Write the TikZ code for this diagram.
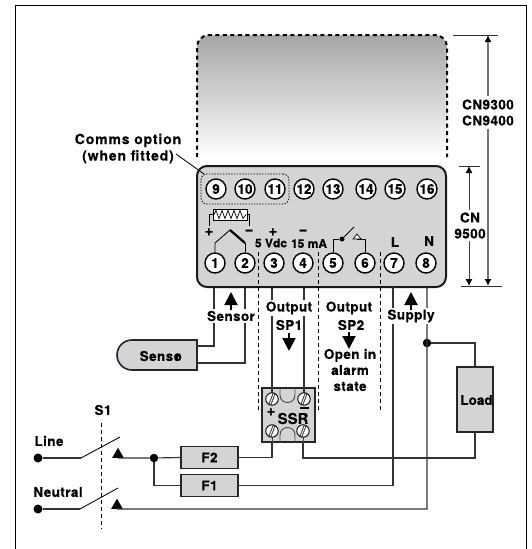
\documentclass[tikz,border=0pt]{standalone}
\usepackage{fontspec}
\setmainfont{TeX Gyre Heros}[BoldFeatures={FakeBold=0.25}]
\newfontfamily\lab[LetterSpace=3.0,BoldFeatures={FakeBold=0.25}]{TeX Gyre Heros}
\newfontfamily\labwide[LetterSpace=6.0,BoldFeatures={FakeBold=0.25}]{TeX Gyre Heros}
\usetikzlibrary{arrows.meta,shapes.misc,shapes.geometric,calc}
\definecolor{boxgray}{HTML}{D3D4D6}
\definecolor{wiregray}{HTML}{333333}
\tikzset{
  txt/.style={font=\fontsize{13.5}{16}\selectfont\lab\bfseries,inner sep=0pt,align=center,text=black},
  small/.style={font=\fontsize{12}{14}\selectfont\bfseries},
  sign/.style={txt,font=\fontsize{15}{16}\selectfont\bfseries},
  mask/.style={txt,fill=white,inner xsep=1pt,inner ysep=1.5pt},
  term/.style={circle,draw=black,fill=white,line width=1.4pt,minimum size=20pt,inner sep=0pt,font=\fontsize{13.5}{15}\selectfont\bfseries},
  wire/.style={draw=wiregray,line width=1.15pt},
  thin wire/.style={draw=black,line width=.85pt},
  ddash/.style={draw=black,line width=1pt,dash pattern=on 3.5pt off 3.5pt},
  grayfill/.style={draw=black!85,fill=boxgray,line width=1.6pt,inner sep=0pt},
  dot/.style={circle,fill=black,inner sep=0pt,minimum size=#1},
  contact/.style={regular polygon,regular polygon sides=3,fill=black,inner sep=0pt,minimum size=13.5pt},
  fat/.style={-{Triangle[length=13pt,width=13pt]},line width=2pt,draw=black},
  dim/.style={draw=black!55,line width=1.3pt,{Latex[black,length=7pt,width=7pt]}-{Latex[black,length=7pt,width=7pt]}},
  tick/.style={draw=black!80,line width=.8pt},
  screw/.style={circle,draw=black,fill=white,line width=.9pt,minimum size=12.5pt,inner sep=0pt,
    path picture={
      \draw[black!75,line width=.9pt] ($(path picture bounding box.south west)+(1,4.5)$)--($(path picture bounding box.north east)+(-4.5,-1)$);
      \draw[black!75,line width=.9pt] ($(path picture bounding box.south west)+(4.5,1)$)--($(path picture bounding box.north east)+(-1,-4.5)$);
    }},
}
\begin{document}
\begin{tikzpicture}[x=1pt,y=-1pt]
\useasboundingbox (0,0) rectangle (531,549);
% frame
\draw[black,line width=1pt] (15.5,549)--(15.5,5.5)--(526,5.5)--(526,549);
% optional upper housing
\shade[top color=black!35,bottom color=white,rounded corners=12pt] (197,157)--(197,35)--(447,35)--(447,157)--cycle;
\fill[white] (195,155) rectangle (449,160);
\draw[black,line width=2pt,dash pattern=on 4pt off 3.5pt,rounded corners=12pt] (197,157)--(197,35)--(447,35)--(447,157);
% main housing
\node[draw=black!90,fill=boxgray,line width=2pt,rounded corners=10pt,minimum width=249pt,minimum height=121pt,inner sep=0pt] (main) at (321.5,226.5) {};
% comms option region
\node[draw=black,line width=.8pt,dash pattern=on 1.4pt off 1.4pt,rounded corners=6pt,minimum width=88pt,minimum height=30pt,inner sep=0pt] (comms) at (245,189) {};
% terminals
\foreach \n/\x in {9/216,10/245,11/275,12/304,13/333,14/366,15/395,16/427}
  \node[term] (t\n) at (\x,189) {\n};
\foreach \n/\x in {1/215,2/245,3/274,4/303,5/333,6/365,7/394,8/426}
  \node[term] (t\n) at (\x,263) {\n};
% heater symbol
\node[draw=black,fill=white,line width=.9pt,minimum width=34pt,minimum height=11pt,inner sep=0pt] (heat) at (230,214.5) {};
\draw[black,line width=.7pt] (214,214.5)--(216,210.5)--(219,218.5)--(222,210.5)--(225,218.5)--(228,210.5)--(231,218.5)--(234,210.5)--(237,218.5)--(240,210.5)--(243,218.5)--(246,214.5);
\draw[thin wire] (heat.west)--(209,214.5)--(209,226);
\draw[thin wire] (heat.east)--(249,214.5)--(249,226);
% thermocouple
\draw[thin wire] (t1.north)--(215,243)--(230,230);
\draw[black,line width=2.2pt] (230,230)--(245,243);
\draw[thin wire] (245,243)--(t2.north);
% contact symbol
\node[dot=5pt] (swp) at (342,239) {};
\draw[thin wire] (t5.north)--(333,239)--(swp);
\draw[thin wire] (swp)--(354,227);
\draw[thin wire] (t6.north)--(365,239)--(357,239);
\draw[thin wire,fill=white,line width=.7pt] (353,239)--(357,234)--(361,239)--cycle;
% polarity and terminal texts
\node[sign] (pa) at (209,232) {+};
\node[sign] (ma) at (249,232) {−};
\node[sign] (pb) at (273,232) {+};
\node[sign] (mb) at (303,232) {−};
\node[txt,small] (vdc) at (271,243) {5 Vdc};
\node[txt,small] (ma15) at (309,243.5) {15 mA};
\node[txt] (ll) at (395,242) {L};
\node[txt] (nn) at (429,241) {N};
% leader
\coordinate (lead) at (176,154);
\draw[thin wire] (lead)--(204,174);
\node[txt,font=\fontsize{14}{16.5}\selectfont\labwide\bfseries] (commslab) at (128,148.5) {Comms option\\(when fitted)};
% dimensions
\coordinate (dimA) at (488,35);
\coordinate (dimB) at (488,286);
\coordinate (dimC) at (469,166);
\coordinate (dimD) at (469,286);
\draw[tick] (453,35)--(498,35);
\draw[tick] (459,166)--(480,166);
\draw[tick] (461,286)--(502,286);
\draw[dim] (dimA)--(dimB);
\draw[dim,draw=black!75,line width=.9pt] (dimC)--(dimD);
\node[mask,inner ysep=3pt] (cn34) at (488,112.5) {CN9300\\CN9400};
\node[mask,inner ysep=2pt] (cn95) at (470,225.5) {CN\\9500};
% sensor
\node[grayfill,rounded rectangle,rounded rectangle east arc=none,minimum width=80pt,minimum height=30pt] (sensor) at (157,355) {};
\node[txt] (senstxt) at (160,356) {Senso\kern-.5em r};
\coordinate (sa) at (197,346);
\coordinate (sb) at (197,363);
\draw[wire] (main.south -| t1) ++(-1,0) |- (sa);
\draw[wire] (main.south -| t2) |- (sb);
\node[mask] (senslab) at (231,316) {Sensor};
\draw[fat] (231,310)--(231,292);
% load
\node[grayfill,minimum width=36pt,minimum height=65pt] (load) at (475,399.5) {};
\node[txt,font=\fontsize{13.5}{15}\selectfont\bfseries] (loadtxt) at (476.5,400) {Load};
% SSR
\node[draw=black!85,fill=boxgray,line width=1.1pt,minimum width=53pt,minimum height=54pt,inner sep=0pt] (ssr) at (288.5,415) {};
\draw[black!70,line width=.9pt] (280,388)--(280,395) .. controls (280,405) and (295,405) .. (295,395)--(295,388);
\draw[black!70,line width=.9pt] (280,442)--(280,435) .. controls (280,425) and (295,425) .. (295,435)--(295,442);
\draw[black!70,line width=.9pt] (272,431)--(272,442) (303,431)--(303,442);
\draw[wire] (main.south -| t3) ++(-2,0) -- (272,399);
\draw[wire] (main.south -| t4) ++(1,0) -- (304,399);
\node[screw] (sc1) at (272,399) {};
\node[screw] (sc2) at (304,399) {};
\node[screw] (sc3) at (272,431) {};
\node[screw] (sc4) at (303,431) {};
\node[sign] (ssrp) at (271,412) {+};
\node[txt,font=\fontsize{15}{16}\selectfont\bfseries] (ssrtxt) at (293,418.5) {SSR};
\draw[black,line width=1.2pt] (300,408)--(309,408);
% output labels
\node[mask] (o1) at (289,308) {Output};
\node[txt] (sp1) at (289,325) {SP1};
\draw[fat] (289,333)--(289,351);
\node[txt] (o2) at (349,308) {Output};
\node[txt] (sp2) at (351,325) {SP2};
\draw[fat] (349,332)--(349,349);
\node[txt] (open) at (350,370) {Open in\\alarm\\state};
% fuses
\node[grayfill,minimum width=57pt,minimum height=22pt] (f2) at (209.5,457.5) {};
\node[txt] at (f2) {F2};
\node[grayfill,minimum width=57pt,minimum height=22pt] (f1) at (209.5,485.5) {};
\node[txt] at (f1) {F1};
% switch S1
\node[dot=9pt] (line) at (38,458) {};
\node[dot=9pt] (neut) at (38,509) {};
\node[contact] (ca) at (118,454.5) {};
\node[contact] (cb) at (117,505.5) {};
\node[dot=8.5pt] (jn) at (154,458) {};
\coordinate (la) at (81,458);
\coordinate (lb) at (120,437);
\coordinate (na) at (80,509);
\coordinate (nb) at (118,488);
\draw[wire] (line)--(la);
\draw[thin wire] (la)--(lb);
\draw[wire] (neut)--(na);
\draw[thin wire] (na)--(nb);
\draw[wire] (ca.south)--(124,458)--(jn)--(f2.west);
\draw[wire] (jn)|-(f1.west);
\draw[wire] (f2.east)-|(272,442);
\draw[wire] (f1.east)-|(393,287);
% neutral & load
\node[dot=8.5pt] (jl) at (427,343) {};
\draw[wire] (cb.south)--(124,509)-|(427,287);
\draw[wire] (jl)-|(load.north);
\draw[wire] (load.south)|-(303,458)--(303,442);
\node[mask] (supply) at (411,316) {Supply};
\draw[fat] (411,310)--(411,292);
% S1 texts
\node[txt] (s1) at (103,410) {S1};
\node[txt] (linetxt) at (49,441) {Line};
\node[txt] (neuttxt) at (58,492) {Neutral};
\coordinate (s1a) at (101,423);
\coordinate (s1b) at (101,529);
\draw[ddash] (s1a)--(s1b);
% isolation lines
\draw[ddash] (258,252)--(258,410);
\draw[ddash] (318,252)--(318,410);
\draw[ddash] (380,252)--(380,410);
\end{tikzpicture}
\end{document}
